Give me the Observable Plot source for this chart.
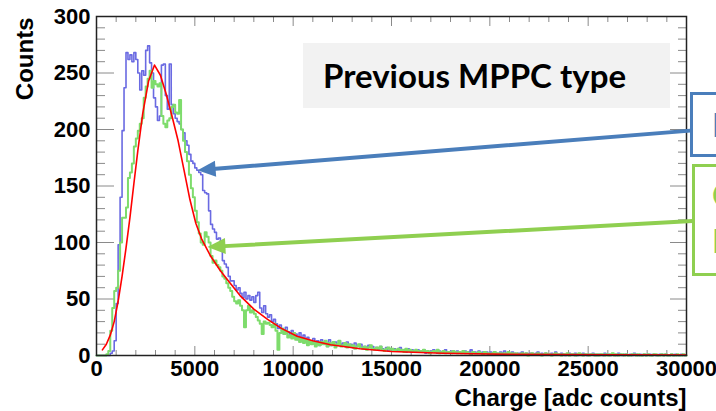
<!DOCTYPE html>
<html><head><meta charset="utf-8">
<script src="https://cdn.jsdelivr.net/npm/d3@7"></script>
<script src="https://cdn.jsdelivr.net/npm/@observablehq/plot@0.6"></script>
<style>
body{margin:0;background:#fff;}
#wrap{position:relative;width:716px;height:411px;overflow:hidden;background:#fff;}
#wrap svg{position:absolute;left:0;top:0;}
</style></head><body><div id="wrap"></div>
<script>
// ---- data ----
const binWidth = 100; // adc counts per bin
const blueCounts = [
 0,0,0,0,0,0,0,2,4,13,
 46,98,140,199,237,268,262,266,260,268,
 262,250,235,252,248,270,274,259,250,228,
 220,208,212,257,258,230,218,258,222,214,
 210,207,205,200,197,190,186,178,172,170,
 166,164,162,160,146,144,143,128,116,112,
 109,103,104,93,84,81,78,70,66,66,
 62,58,60,55,51,56,50,53,49,52,
 47,53,56,42,38,44,37,34,36,30,
 32,28,24,27,22,19,25,21,18,22,
 16,19,14,20,15,18,12,16,13,10,
 15,11,13,9,14,10,12,8,14,9,
 11,12,9,13,10,11,8,12,9,10,
 7,11,8,9,10,7,8,6,9,7,
 8,6,7,5,8,6,5,7,4,6,
 5,6,4,5,7,4,5,3,6,4,
 5,4,3,5,4,3,5,2,4,3,
 4,5,3,2,4,3,3,5,2,3,
 4,3,2,4,3,2,3,4,2,3,
 5,2,3,2,4,2,3,2,3,1,
 3,2,3,2,1,3,2,4,2,1,
 2,3,2,1,2,2,3,1,2,1,
 2,2,1,2,3,1,2,1,2,1,
 1,2,1,3,1,1,2,1,0,1,
 2,1,1,2,0,1,1,2,1,0,
 1,1,2,1,0,1,1,0,2,1,
 1,0,1,1,0,2,1,0,1,1,
 0,1,0,2,1,0,1,0,1,0,
 1,1,0,1,0,0,1,1,0,1,
 0,0,1,0,1,0,0,1,0,0
];
const greenCounts = [
 0,0,0,0,0,1,4,22,42,57,
 60,75,100,122,122,131,157,162,170,185,
 192,199,205,210,228,238,245,252,237,243,
 240,238,241,212,205,202,208,210,220,222,
 215,214,226,200,190,180,172,160,148,140,
 128,118,108,100,98,109,105,100,88,82,
 84,80,78,75,70,68,64,60,57,52,
 48,46,49,44,40,25,40,44,38,40,
 37,34,31,28,19,30,28,29,27,25,
 28,22,5,20,24,19,22,16,18,15,
 20,14,16,12,15,11,14,9,13,10,
 12,8,11,9,12,10,13,8,11,9,
 12,7,10,13,8,9,11,7,10,8,
 9,6,8,10,7,6,8,5,7,9,
 6,5,7,6,8,5,4,6,7,5,
 6,4,5,6,4,5,3,6,4,5,
 4,3,5,4,3,4,5,3,4,2,
 3,4,3,5,2,3,4,2,3,3,
 2,4,3,2,3,2,4,2,3,2,
 1,3,2,2,3,2,1,3,2,2,
 1,2,3,1,2,2,1,2,1,3,
 1,2,1,2,1,1,2,1,2,0,
 1,2,1,1,2,1,0,1,2,1,
 1,0,1,2,1,1,0,1,1,2,
 0,1,1,0,1,2,1,0,1,1,
 0,1,1,0,1,0,1,1,0,1,
 0,1,2,0,1,0,1,1,0,1,
 0,0,1,1,0,1,0,0,1,0,
 1,0,0,1,1,0,0,1,0,1,
 0,0,1,0,0,1,0,0,1,0
];
const fitX = [300,500,700,900,1100,1300,1500,1700,1900,2100,
  2350,2650,2950,3250,3550,3850,4150,4450,4750,5050,
  5350,5800,6300,6800,7300,8000,8700,9400,10200,11000,
  11900,13400,15000,17600,21000,26000,30000];
const fitY = [5,10,18,30,48,70,95,122,152,181,
  214,243,257,248,231,211,190,164,138,117,
  103,88,75,64,53,41,32,24,17,13,
  9.5,6,3.5,2,1,0.6,0.4];

const xMajor = [0,5000,10000,15000,20000,25000,30000];
const xMinor = d3.range(0,30001,1000).filter(v => v % 5000 !== 0);
const yMajor = [0,50,100,150,200,250,300];
const yMinor = d3.range(0,301,10).filter(v => v % 50 !== 0);

const xTitle = "Charge [adc counts]";
const yTitle = "Counts";
const boxTitle = "Previous MPPC type";
const blueBoxText = ["New MPPC"];
const greenBoxText = ["Current", "MPPC"];

// annotation arrows (data coordinates: start near callout box, tip at histogram)
const blueArrow = {x1: 30200, y1: 199, x2: 5140, y2: 164};
const greenArrow = {x1: 30300, y1: 119, x2: 5640, y2: 96};

// ---- build ----
const blueC = "#6a6ae2", greenC = "#7edc6c", redC = "#ff0000";
const arrowBlue = "#4a7ebb", arrowGreen = "#8fcf50";

function steps(counts){
  const pts = counts.map((c,i) => ({x: i*binWidth, y: c}));
  pts.push({x: counts.length*binWidth, y: counts[counts.length-1]});
  return pts;
}
const fit = fitX.map((x,i) => ({x, y: fitY[i]}));

const W = 716, H = 411, mL = 96, mR = 30, mT = 16, mB = 56;
const sx = Plot.scale({x: {domain: [0,30000], range: [mL, W-mR]}});
const sy = Plot.scale({y: {domain: [0,300], range: [H-mB, mT]}});
function rot(a){
  const dx = sx.apply(a.x2) - sx.apply(a.x1), dy = sy.apply(a.y2) - sy.apply(a.y1);
  return Math.atan2(dy, dx) * 180 / Math.PI + 90;
}
const head = {draw(ctx){ ctx.moveTo(0,0); ctx.lineTo(-8,18); ctx.lineTo(8,18); ctx.closePath(); }};

const tickStyle = {fill: "none", stroke: "#8a8a8a", label: null};

const chart = Plot.plot({
  width: W, height: H,
  marginLeft: mL, marginRight: mR, marginTop: mT, marginBottom: mB,
  x: {domain: [0,30000]},
  y: {domain: [0,300]},
  style: {fontFamily: "'Liberation Sans', Arial, sans-serif", fontSize: "22px", fontWeight: "bold", color: "#000", background: "transparent"},
  marks: [
    Plot.axisY(yMinor, {...tickStyle, anchor: "left", tickSize: -9}),
    Plot.axisY(yMajor, {...tickStyle, anchor: "left", tickSize: -18}),
    Plot.axisY(yMinor, {...tickStyle, anchor: "right", tickSize: -9}),
    Plot.axisY(yMajor, {...tickStyle, anchor: "right", tickSize: -17}),
    Plot.axisX(xMinor, {...tickStyle, anchor: "bottom", tickSize: -5}),
    Plot.axisX(xMajor, {...tickStyle, anchor: "bottom", tickSize: -9}),
    Plot.axisX(xMinor, {...tickStyle, anchor: "top", tickSize: -5}),
    Plot.axisX(xMajor, {...tickStyle, anchor: "top", tickSize: -9}),
    Plot.axisY(yMajor, {anchor: "left", tickSize: 0, tickPadding: 6, label: null, tickFormat: d3.format("d")}),
    Plot.axisX(xMajor, {anchor: "bottom", tickSize: 0, tickPadding: 5, label: null, tickFormat: d3.format("d")}),
    Plot.lineY(steps(blueCounts), {x: "x", y: "y", curve: "step-after", stroke: blueC, strokeWidth: 1.6}),
    Plot.lineY(steps(greenCounts), {x: "x", y: "y", curve: "step-after", stroke: greenC, strokeWidth: 2}),
    Plot.line(fit, {x: "x", y: "y", stroke: redC, strokeWidth: 1.6}),
    Plot.frame({stroke: "#222", strokeWidth: 1.5}),
    Plot.arrow([blueArrow], {x1: "x1", y1: "y1", x2: "x2", y2: "y2", stroke: arrowBlue, strokeWidth: 4, headLength: 0, insetEnd: 12, bend: false}),
    Plot.dot([blueArrow], {x: "x2", y: "y2", symbol: head, r: 5, fill: arrowBlue, stroke: null, rotate: rot(blueArrow)}),
    Plot.arrow([greenArrow], {x1: "x1", y1: "y1", x2: "x2", y2: "y2", stroke: arrowGreen, strokeWidth: 4, headLength: 0, insetEnd: 12, bend: false}),
    Plot.dot([greenArrow], {x: "x2", y: "y2", symbol: head, r: 5, fill: arrowGreen, stroke: null, rotate: rot(greenArrow)}),
    Plot.text([yTitle], {frameAnchor: "top-left", text: d => d, rotate: -90, textAnchor: "end", lineAnchor: "bottom", dx: -64, dy: 1, fontSize: 24, fontWeight: "bold"}),
    Plot.text([xTitle], {frameAnchor: "bottom-right", text: d => d, textAnchor: "end", lineAnchor: "bottom", dy: 50, fontSize: 24, fontWeight: "bold"})
  ]
});
const wrap = document.getElementById("wrap");
wrap.appendChild(chart);

// callout boxes (overlay)
const ns = "http://www.w3.org/2000/svg";
const ov = document.createElementNS(ns, "svg");
ov.setAttribute("width", W); ov.setAttribute("height", H);
function el(tag, attrs, text){
  const e = document.createElementNS(ns, tag);
  for (const k in attrs) e.setAttribute(k, attrs[k]);
  if (text != null) e.textContent = text;
  ov.appendChild(e); return e;
}
el("rect", {x: 303, y: 43, width: 367, height: 65, fill: "#f2f2f2"});
el("text", {x: 323, y: 88, "font-family": "Lato, 'Open Sans', sans-serif", "font-weight": "bold", "font-size": 33, fill: "#000"}, boxTitle);
el("rect", {x: 691.5, y: 93.5, width: 80, height: 62, fill: "#fff", stroke: arrowBlue, "stroke-width": 3});
blueBoxText.forEach((t,i) => el("text", {x: 712, y: 137 + i*46, "font-family": "Lato, sans-serif", "font-weight": "bold", "font-size": 33, fill: arrowBlue}, t));
el("rect", {x: 693.5, y: 165.5, width: 80, height: 109, fill: "#fff", stroke: arrowGreen, "stroke-width": 3});
greenBoxText.forEach((t,i) => el("text", {x: 712, y: 207 + i*46, "font-family": "Lato, sans-serif", "font-weight": "bold", "font-size": 33, fill: arrowGreen}, t));
wrap.appendChild(ov);
</script></body></html>
